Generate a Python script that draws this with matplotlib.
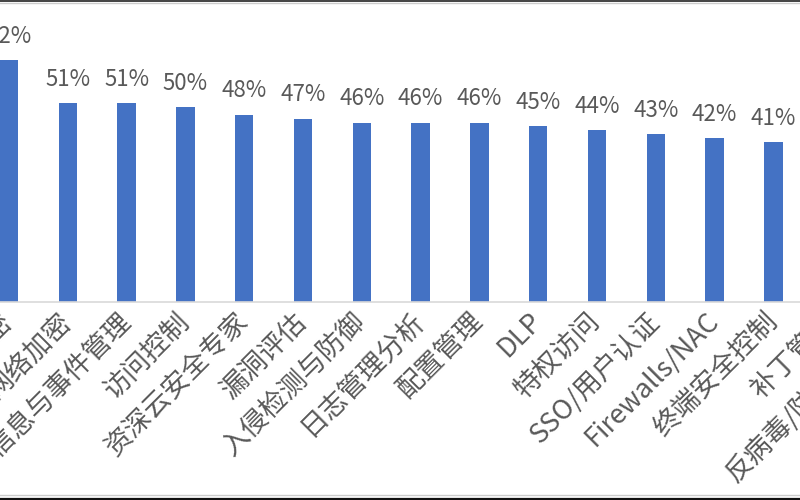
import matplotlib
matplotlib.use('Agg')
import matplotlib.pyplot as plt
from matplotlib.lines import Line2D

plt.rcParams['font.family'] = ['Noto Sans CJK SC', 'DejaVu Sans']

# 数据
categories = ['数据加密', '网络加密', '安全信息与事件管理', '访问控制', '资深云安全专家',
              '漏洞评估', '入侵检测与防御', '日志管理分析', '配置管理', 'DLP',
              '特权访问', 'SSO/用户认证', 'Firewalls/NAC', '终端安全控制',
              '补丁管理', '反病毒/防恶意软件']
values = [62, 51, 51, 50, 48, 47, 46, 46, 46, 45, 44, 43, 42, 41, 40, 39]

bar_color = '#4472C4'
text_color = '#595959'

fig = plt.figure(figsize=(8, 5), dpi=100)
# 截图效果：坐标区比画面更宽，左右两端被裁掉
ax = fig.add_axes([-0.0255, 0.396, 1.176, 0.546])

x = list(range(len(categories)))
bars = ax.bar(x, values, width=0.31, color=bar_color, zorder=2)

for xi, v in zip(x, values):
    ax.annotate(f'{v}%', (xi, v), xytext=(0, 9), textcoords='offset points',
                ha='center', va='bottom', fontsize=16, color=text_color,
                fontweight='light', annotation_clip=False)

ax.set_xlim(-0.5, len(categories) - 0.5)
ax.set_ylim(0, 70)
ax.set_xticks(x)
ax.set_xticklabels(categories, rotation=45, ha='right', va='center',
                   rotation_mode='anchor', fontsize=19.5, color=text_color,
                   fontweight='light')
ax.tick_params(axis='x', length=0, pad=11)
ax.set_yticks([])
for side in ['top', 'left', 'right']:
    ax.spines[side].set_visible(False)
ax.spines['bottom'].set_color('#D9D9D9')
ax.spines['bottom'].set_linewidth(1.2)

# 截图边框
fig.add_artist(Line2D([0, 1], [0.999, 0.999], color='#222222', lw=1.2, transform=fig.transFigure))
fig.add_artist(Line2D([0, 1], [0.994, 0.994], color='#CCCCCC', lw=1.0, transform=fig.transFigure))
fig.add_artist(Line2D([0, 1], [0.010, 0.010], color='#CCCCCC', lw=1.0, transform=fig.transFigure))
fig.add_artist(Line2D([0, 1], [0.003, 0.003], color='#111111', lw=1.6, transform=fig.transFigure))

plt.savefig('out.png', dpi=100)
